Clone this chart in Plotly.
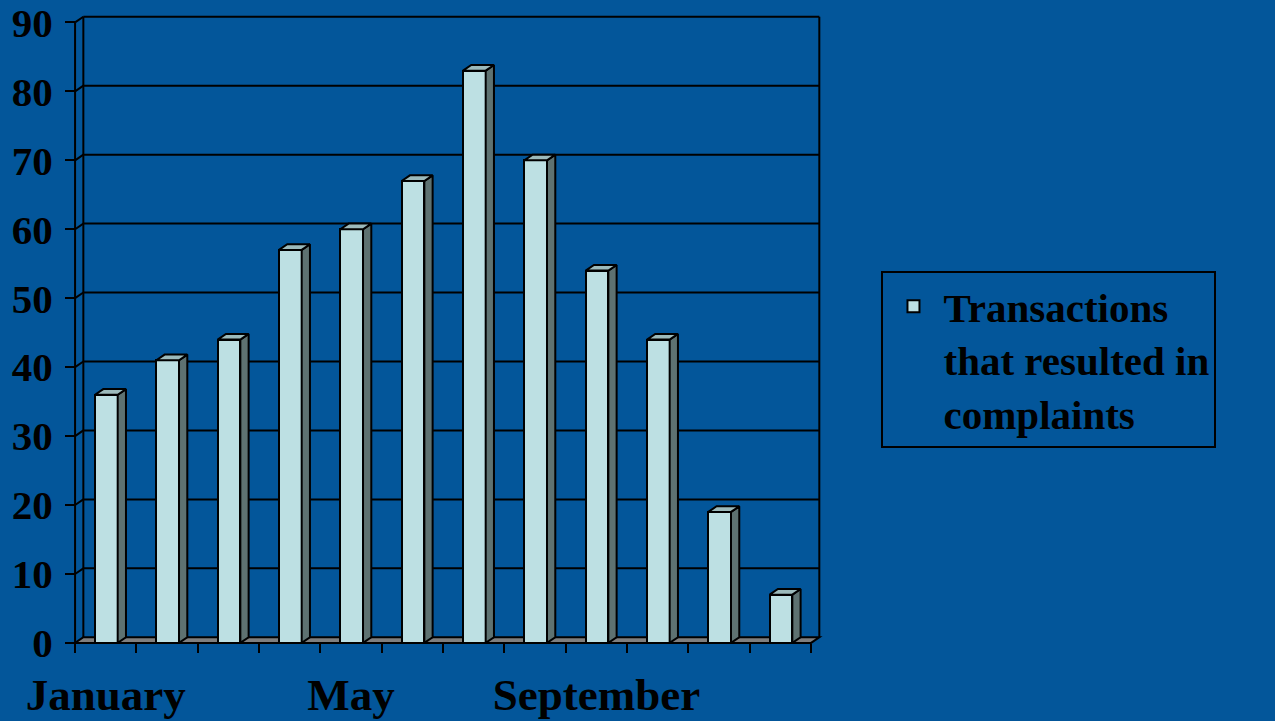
import plotly.graph_objects as go

# ---- data ----
months = ["January", "February", "March", "April", "May", "June",
          "July", "August", "September", "October", "November", "December"]
complaints = [36, 41, 44, 57, 60, 67, 83, 70, 54, 44, 19, 7]
y_ticks = [0, 10, 20, 30, 40, 50, 60, 70, 80, 90]
x_label_months = ["January", "May", "September"]
series_name = "Transactions<br>that resulted in<br>complaints"

# ---- style / geometry ----
BG = "#03569A"
FRONT = "#BDE0E3"
SIDE = "#5E7271"
TOP = "#9CBABB"
FLOOR = "#7F7F7F"
FONT = "Liberation Serif"
DX, DY = 0.135, 0.82          # pseudo-3D depth in data units
BAR_OFF, BAR_W = 0.51, 0.37   # bar centre offset in category, bar width
PX_X, PX_Y = 61.3, 6.896      # pixels per data unit
X0_PX, Y0_PX = 75.0, 643.0    # pixel position of the origin
W, H = 1275, 721
xr = [-0.05, len(months) + DX + 0.06]
yr = [-0.3, max(y_ticks) + DY + 0.4]

ml = X0_PX + xr[0] * PX_X
mr = W - ml - (xr[1] - xr[0]) * PX_X
mb = H - (Y0_PX - yr[0] * PX_Y)
mt = Y0_PX - yr[1] * PX_Y

n = len(months)
xc = [i + BAR_OFF for i in range(n)]
x0s = [c - BAR_W / 2 for c in xc]
x1s = [c + BAR_W / 2 for c in xc]

fig = go.Figure()

# front faces of the bars
fig.add_trace(go.Bar(
    x=xc, y=complaints, width=BAR_W, name=series_name,
    marker=dict(color=FRONT, line=dict(color="black", width=2)),
    hovertext=months, showlegend=True,
))

# side faces
sx, sy = [], []
for a, b, v in zip(x0s, x1s, complaints):
    sx += [b, b + DX, b + DX, b, b, None]
    sy += [0, DY, v + DY, v, 0, None]
fig.add_trace(go.Scatter(x=sx, y=sy, fill="toself", fillcolor=SIDE, mode="lines",
                         line=dict(color="black", width=2), showlegend=False,
                         hoverinfo="skip"))
# top faces
tx, ty = [], []
for a, b, v in zip(x0s, x1s, complaints):
    tx += [a, a + DX, b + DX, b, a, None]
    ty += [v, v + DY, v + DY, v, v, None]
fig.add_trace(go.Scatter(x=tx, y=ty, fill="toself", fillcolor=TOP, mode="lines",
                         line=dict(color="black", width=2), showlegend=False,
                         hoverinfo="skip"))

# ---- walls, floor and gridlines (below the data) ----
shapes = []
ln = dict(color="black", width=2)
shapes.append(dict(type="path", layer="below", xref="x", yref="y",
                   path=f"M0,0 L{n},0 L{n + DX},{DY} L{DX},{DY} Z",
                   fillcolor=FLOOR, line=ln))
top = max(y_ticks)
shapes.append(dict(type="line", layer="below", xref="x", yref="y",
                   x0=0, y0=0, x1=0, y1=top, line=ln))
shapes.append(dict(type="line", layer="below", xref="x", yref="y",
                   x0=DX, y0=DY, x1=DX, y1=top + DY, line=ln))
shapes.append(dict(type="line", layer="below", xref="x", yref="y",
                   x0=n + DX, y0=DY, x1=n + DX, y1=top + DY, line=ln))
for v in y_ticks[1:]:
    shapes.append(dict(type="line", layer="below", xref="x", yref="y",
                       x0=0, y0=v, x1=DX, y1=v + DY, line=ln))
    shapes.append(dict(type="line", layer="below", xref="x", yref="y",
                       x0=DX, y0=v + DY, x1=n + DX, y1=v + DY, line=ln))

fig.update_layout(
    width=W, height=H, autosize=False,
    paper_bgcolor=BG, plot_bgcolor=BG,
    margin=dict(l=ml, r=mr, t=mt, b=mb, pad=0, autoexpand=False),
    shapes=shapes,
    showlegend=True,
    bargap=0,
    font=dict(family=FONT, color="black", size=40, weight="bold"),
    xaxis=dict(
        range=xr, showgrid=False, zeroline=False, showline=False,
        anchor="free", position=(0 - yr[0]) / (yr[1] - yr[0]),
        tickmode="array",
        tickvals=[months.index(m) + 0.5 for m in x_label_months],
        ticktext=x_label_months,
        ticks="outside", ticklen=0, tickcolor="black",
        ticklabelstandoff=12, ticklabeloverflow="allow",
        tickfont=dict(family=FONT, size=45, color="black", weight="bold"),
        minor=dict(tickmode="array", tickvals=list(range(n + 1)),
                   ticks="outside", ticklen=9, tickwidth=2,
                   tickcolor="black", showgrid=False),
    ),
    yaxis=dict(
        range=yr, showgrid=False, zeroline=False, showline=False,
        anchor="free", position=(0 - xr[0]) / (xr[1] - xr[0]),
        tickmode="array", tickvals=y_ticks,
        ticks="outside", ticklen=10, tickwidth=2, tickcolor="black",
        ticklabelstandoff=4, ticklabeloverflow="allow",
        tickfont=dict(family=FONT, size=41, color="black", weight="bold"),
    ),
    legend=dict(
        x=(881 - ml) / ((xr[1] - xr[0]) * PX_X),
        y=(H - mb - 271) / ((yr[1] - yr[0]) * PX_Y),
        xanchor="left", yanchor="top",
        bgcolor=BG, bordercolor="black", borderwidth=2,
        font=dict(family=FONT, size=41, color="black", weight="bold"),
        valign="top", itemwidth=50,
        entrywidth=400, entrywidthmode="pixels",
    ),
)

fig.write_html("out.html",
               config={"displayModeBar": False},
               post_script="document.body.style.margin='0';"
                           "document.body.style.overflow='hidden';")
